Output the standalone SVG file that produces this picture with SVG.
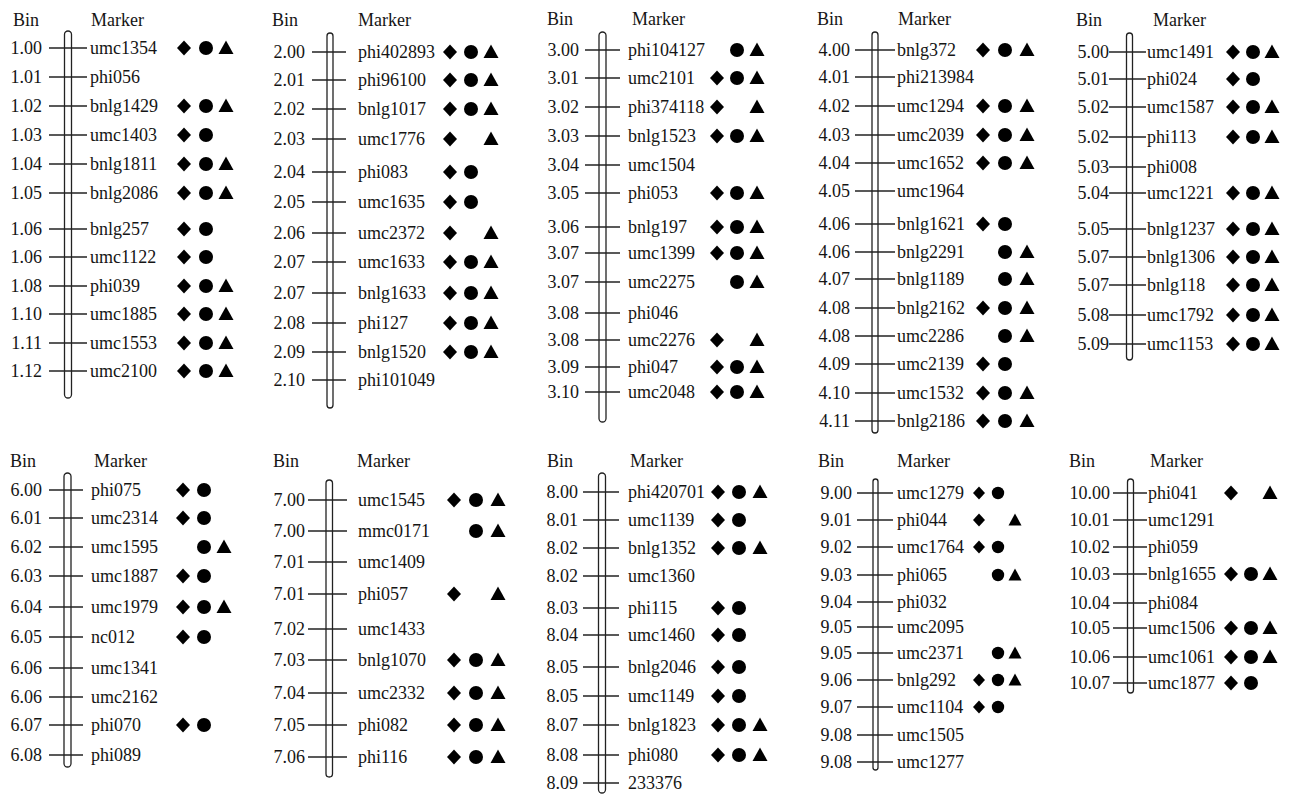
<svg xmlns="http://www.w3.org/2000/svg" xmlns:xlink="http://www.w3.org/1999/xlink" width="1292" height="795" viewBox="0 0 1292 795">
<style>
text{font-family:"Liberation Serif","Times New Roman",serif;font-size:18px;fill:#151515}
.bin{text-anchor:end}
.bar{fill:#fff;stroke:#222;stroke-width:1.3}
.tk line{stroke:#222;stroke-width:1.4}
.sym{fill:#000}
</style>
<defs>
<path id="D" d="M0,-7.5 L7,0 L0,7.5 L-7,0Z"/>
<circle id="C" r="7"/>
<path id="T" d="M0,-7.5 L7.5,6 L-7.5,6Z"/>
<path id="Ds" d="M0,-6.5 L6,0 L0,6.5 L-6,0Z"/>
<circle id="Cs" r="6.2"/>
<path id="Ts" d="M0,-6.5 L6.5,5.5 L-6.5,5.5Z"/>
</defs>
<rect width="1292" height="795" fill="#fff"/>

<g id="chr1">
<text x="13" y="26">Bin</text><text x="91" y="26">Marker</text>
<rect class="bar" x="64.5" y="31" width="7" height="367" rx="3.5"/>
<g class="tk">
<line x1="49" x2="87" y1="48" y2="48"/><line x1="49" x2="87" y1="77" y2="77"/><line x1="49" x2="87" y1="106" y2="106"/><line x1="49" x2="87" y1="135" y2="135"/><line x1="49" x2="87" y1="164" y2="164"/><line x1="49" x2="87" y1="193" y2="193"/><line x1="49" x2="87" y1="229" y2="229"/><line x1="49" x2="87" y1="257" y2="257"/><line x1="49" x2="87" y1="286" y2="286"/><line x1="49" x2="87" y1="314" y2="314"/><line x1="49" x2="87" y1="343" y2="343"/><line x1="49" x2="87" y1="371" y2="371"/>
</g>
<g class="bin"><text x="42" y="54">1.00</text><text x="42" y="83">1.01</text><text x="42" y="112">1.02</text><text x="42" y="141">1.03</text><text x="42" y="170">1.04</text><text x="42" y="199">1.05</text><text x="42" y="235">1.06</text><text x="42" y="263">1.06</text><text x="42" y="292">1.08</text><text x="42" y="320">1.10</text><text x="42" y="349">1.11</text><text x="42" y="377">1.12</text></g>
<g><text x="90" y="54">umc1354</text><text x="90" y="83">phi056</text><text x="90" y="112">bnlg1429</text><text x="90" y="141">umc1403</text><text x="90" y="170">bnlg1811</text><text x="90" y="199">bnlg2086</text><text x="90" y="235">bnlg257</text><text x="90" y="263">umc1122</text><text x="90" y="292">phi039</text><text x="90" y="320">umc1885</text><text x="90" y="349">umc1553</text><text x="90" y="377">umc2100</text></g>
<g class="sym">
<use href="#D" x="184" y="48"/><use href="#C" x="206" y="48"/><use href="#T" x="226" y="48"/>
<use href="#D" x="184" y="106"/><use href="#C" x="206" y="106"/><use href="#T" x="226" y="106"/>
<use href="#D" x="184" y="135"/><use href="#C" x="206" y="135"/>
<use href="#D" x="184" y="164"/><use href="#C" x="206" y="164"/><use href="#T" x="226" y="164"/>
<use href="#D" x="184" y="193"/><use href="#C" x="206" y="193"/><use href="#T" x="226" y="193"/>
<use href="#D" x="184" y="229"/><use href="#C" x="206" y="229"/>
<use href="#D" x="184" y="257"/><use href="#C" x="206" y="257"/>
<use href="#D" x="184" y="286"/><use href="#C" x="206" y="286"/><use href="#T" x="226" y="286"/>
<use href="#D" x="184" y="314"/><use href="#C" x="206" y="314"/><use href="#T" x="226" y="314"/>
<use href="#D" x="184" y="343"/><use href="#C" x="206" y="343"/><use href="#T" x="226" y="343"/>
<use href="#D" x="184" y="371"/><use href="#C" x="206" y="371"/><use href="#T" x="226" y="371"/>
</g>
</g>

<g id="chr2">
<text x="272" y="26">Bin</text><text x="358" y="26">Marker</text>
<rect class="bar" x="327" y="33" width="6" height="375" rx="3"/>
<g class="tk">
<line x1="312" x2="346" y1="52" y2="52"/><line x1="312" x2="346" y1="80" y2="80"/><line x1="312" x2="346" y1="109" y2="109"/><line x1="312" x2="346" y1="139" y2="139"/><line x1="312" x2="346" y1="172" y2="172"/><line x1="312" x2="346" y1="202" y2="202"/><line x1="312" x2="346" y1="233" y2="233"/><line x1="312" x2="346" y1="262" y2="262"/><line x1="312" x2="346" y1="293" y2="293"/><line x1="312" x2="346" y1="323" y2="323"/><line x1="312" x2="346" y1="352" y2="352"/><line x1="312" x2="346" y1="380" y2="380"/>
</g>
<g class="bin"><text x="305" y="58">2.00</text><text x="305" y="86">2.01</text><text x="305" y="115">2.02</text><text x="305" y="145">2.03</text><text x="305" y="178">2.04</text><text x="305" y="208">2.05</text><text x="305" y="239">2.06</text><text x="305" y="268">2.07</text><text x="305" y="299">2.07</text><text x="305" y="329">2.08</text><text x="305" y="358">2.09</text><text x="305" y="386">2.10</text></g>
<g><text x="358" y="58">phi402893</text><text x="358" y="86">phi96100</text><text x="358" y="115">bnlg1017</text><text x="358" y="145">umc1776</text><text x="358" y="178">phi083</text><text x="358" y="208">umc1635</text><text x="358" y="239">umc2372</text><text x="358" y="268">umc1633</text><text x="358" y="299">bnlg1633</text><text x="358" y="329">phi127</text><text x="358" y="358">bnlg1520</text><text x="358" y="386">phi101049</text></g>
<g class="sym">
<use href="#D" x="450" y="52"/><use href="#C" x="471" y="52"/><use href="#T" x="491" y="52"/>
<use href="#D" x="450" y="80"/><use href="#C" x="471" y="80"/><use href="#T" x="491" y="80"/>
<use href="#D" x="450" y="109"/><use href="#C" x="471" y="109"/><use href="#T" x="491" y="109"/>
<use href="#D" x="450" y="139"/><use href="#T" x="491" y="139"/>
<use href="#D" x="450" y="172"/><use href="#C" x="471" y="172"/>
<use href="#D" x="450" y="202"/><use href="#C" x="471" y="202"/>
<use href="#D" x="450" y="233"/><use href="#T" x="491" y="233"/>
<use href="#D" x="450" y="262"/><use href="#C" x="471" y="262"/><use href="#T" x="491" y="262"/>
<use href="#D" x="450" y="293"/><use href="#C" x="471" y="293"/><use href="#T" x="491" y="293"/>
<use href="#D" x="450" y="323"/><use href="#C" x="471" y="323"/><use href="#T" x="491" y="323"/>
<use href="#D" x="450" y="352"/><use href="#C" x="471" y="352"/><use href="#T" x="491" y="352"/>
</g>
</g>

<g id="chr3">
<text x="547" y="25">Bin</text><text x="632" y="25">Marker</text>
<rect class="bar" x="599" y="32" width="7" height="390" rx="3.5"/>
<g class="tk">
<line x1="585" x2="620" y1="50" y2="50"/><line x1="585" x2="620" y1="78" y2="78"/><line x1="585" x2="620" y1="107" y2="107"/><line x1="585" x2="620" y1="136" y2="136"/><line x1="585" x2="620" y1="165" y2="165"/><line x1="585" x2="620" y1="193" y2="193"/><line x1="585" x2="620" y1="227" y2="227"/><line x1="585" x2="620" y1="253" y2="253"/><line x1="585" x2="620" y1="282" y2="282"/><line x1="585" x2="620" y1="313" y2="313"/><line x1="585" x2="620" y1="340" y2="340"/><line x1="585" x2="620" y1="367" y2="367"/><line x1="585" x2="620" y1="392" y2="392"/>
</g>
<g class="bin"><text x="579" y="56">3.00</text><text x="579" y="84">3.01</text><text x="579" y="113">3.02</text><text x="579" y="142">3.03</text><text x="579" y="171">3.04</text><text x="579" y="199">3.05</text><text x="579" y="233">3.06</text><text x="579" y="259">3.07</text><text x="579" y="288">3.07</text><text x="579" y="319">3.08</text><text x="579" y="346">3.08</text><text x="579" y="373">3.09</text><text x="579" y="398">3.10</text></g>
<g><text x="628" y="56">phi104127</text><text x="628" y="84">umc2101</text><text x="628" y="113">phi374118</text><text x="628" y="142">bnlg1523</text><text x="628" y="171">umc1504</text><text x="628" y="199">phi053</text><text x="628" y="233">bnlg197</text><text x="628" y="259">umc1399</text><text x="628" y="288">umc2275</text><text x="628" y="319">phi046</text><text x="628" y="346">umc2276</text><text x="628" y="373">phi047</text><text x="628" y="398">umc2048</text></g>
<g class="sym">
<use href="#C" x="737" y="50"/><use href="#T" x="757" y="50"/>
<use href="#D" x="717" y="78"/><use href="#C" x="737" y="78"/><use href="#T" x="757" y="78"/>
<use href="#D" x="717" y="107"/><use href="#T" x="757" y="107"/>
<use href="#D" x="717" y="136"/><use href="#C" x="737" y="136"/><use href="#T" x="757" y="136"/>
<use href="#D" x="717" y="193"/><use href="#C" x="737" y="193"/><use href="#T" x="757" y="193"/>
<use href="#D" x="717" y="227"/><use href="#C" x="737" y="227"/><use href="#T" x="757" y="227"/>
<use href="#D" x="717" y="253"/><use href="#C" x="737" y="253"/><use href="#T" x="757" y="253"/>
<use href="#C" x="737" y="282"/><use href="#T" x="757" y="282"/>
<use href="#D" x="717" y="340"/><use href="#T" x="757" y="340"/>
<use href="#D" x="717" y="367"/><use href="#C" x="737" y="367"/><use href="#T" x="757" y="367"/>
<use href="#D" x="717" y="392"/><use href="#C" x="737" y="392"/><use href="#T" x="757" y="392"/>
</g>
</g>

<g id="chr4">
<text x="817" y="25">Bin</text><text x="898" y="25">Marker</text>
<rect class="bar" x="872" y="32" width="6" height="401" rx="3"/>
<g class="tk">
<line x1="855" x2="895" y1="50" y2="50"/><line x1="855" x2="895" y1="77" y2="77"/><line x1="855" x2="895" y1="106" y2="106"/><line x1="855" x2="895" y1="135" y2="135"/><line x1="855" x2="895" y1="163" y2="163"/><line x1="855" x2="895" y1="191" y2="191"/><line x1="855" x2="895" y1="224" y2="224"/><line x1="855" x2="895" y1="252" y2="252"/><line x1="855" x2="895" y1="279" y2="279"/><line x1="855" x2="895" y1="308" y2="308"/><line x1="855" x2="895" y1="336" y2="336"/><line x1="855" x2="895" y1="364" y2="364"/><line x1="855" x2="895" y1="393" y2="393"/><line x1="855" x2="895" y1="421" y2="421"/>
</g>
<g class="bin"><text x="850" y="56">4.00</text><text x="850" y="83">4.01</text><text x="850" y="112">4.02</text><text x="850" y="141">4.03</text><text x="850" y="169">4.04</text><text x="850" y="197">4.05</text><text x="850" y="230">4.06</text><text x="850" y="258">4.06</text><text x="850" y="285">4.07</text><text x="850" y="314">4.08</text><text x="850" y="342">4.08</text><text x="850" y="370">4.09</text><text x="850" y="399">4.10</text><text x="850" y="427">4.11</text></g>
<g><text x="897" y="56">bnlg372</text><text x="897" y="83">phi213984</text><text x="897" y="112">umc1294</text><text x="897" y="141">umc2039</text><text x="897" y="169">umc1652</text><text x="897" y="197">umc1964</text><text x="897" y="230">bnlg1621</text><text x="897" y="258">bnlg2291</text><text x="897" y="285">bnlg1189</text><text x="897" y="314">bnlg2162</text><text x="897" y="342">umc2286</text><text x="897" y="370">umc2139</text><text x="897" y="399">umc1532</text><text x="897" y="427">bnlg2186</text></g>
<g class="sym">
<use href="#D" x="983" y="50"/><use href="#C" x="1005" y="50"/><use href="#T" x="1027" y="50"/>
<use href="#D" x="983" y="106"/><use href="#C" x="1005" y="106"/><use href="#T" x="1027" y="106"/>
<use href="#D" x="983" y="135"/><use href="#C" x="1005" y="135"/><use href="#T" x="1027" y="135"/>
<use href="#D" x="983" y="163"/><use href="#C" x="1005" y="163"/><use href="#T" x="1027" y="163"/>
<use href="#D" x="983" y="224"/><use href="#C" x="1005" y="224"/>
<use href="#C" x="1005" y="252"/><use href="#T" x="1027" y="252"/>
<use href="#C" x="1005" y="279"/><use href="#T" x="1027" y="279"/>
<use href="#D" x="983" y="308"/><use href="#C" x="1005" y="308"/><use href="#T" x="1027" y="308"/>
<use href="#C" x="1005" y="336"/><use href="#T" x="1027" y="336"/>
<use href="#D" x="983" y="364"/><use href="#C" x="1005" y="364"/>
<use href="#D" x="983" y="393"/><use href="#C" x="1005" y="393"/><use href="#T" x="1027" y="393"/>
<use href="#D" x="983" y="421"/><use href="#C" x="1005" y="421"/><use href="#T" x="1027" y="421"/>
</g>
</g>

<g id="chr5">
<text x="1076" y="26">Bin</text><text x="1153" y="26">Marker</text>
<rect class="bar" x="1126.5" y="33" width="6" height="327" rx="3"/>
<g class="tk">
<line x1="1109" x2="1146" y1="52" y2="52"/><line x1="1109" x2="1146" y1="79" y2="79"/><line x1="1109" x2="1146" y1="107" y2="107"/><line x1="1109" x2="1146" y1="137" y2="137"/><line x1="1109" x2="1146" y1="167" y2="167"/><line x1="1109" x2="1146" y1="193" y2="193"/><line x1="1109" x2="1146" y1="229" y2="229"/><line x1="1109" x2="1146" y1="257" y2="257"/><line x1="1109" x2="1146" y1="285" y2="285"/><line x1="1109" x2="1146" y1="315" y2="315"/><line x1="1109" x2="1146" y1="344" y2="344"/>
</g>
<g class="bin"><text x="1109" y="58">5.00</text><text x="1109" y="85">5.01</text><text x="1109" y="113">5.02</text><text x="1109" y="143">5.02</text><text x="1109" y="173">5.03</text><text x="1109" y="199">5.04</text><text x="1109" y="235">5.05</text><text x="1109" y="263">5.07</text><text x="1109" y="291">5.07</text><text x="1109" y="321">5.08</text><text x="1109" y="350">5.09</text></g>
<g><text x="1147" y="58">umc1491</text><text x="1147" y="85">phi024</text><text x="1147" y="113">umc1587</text><text x="1147" y="143">phi113</text><text x="1147" y="173">phi008</text><text x="1147" y="199">umc1221</text><text x="1147" y="235">bnlg1237</text><text x="1147" y="263">bnlg1306</text><text x="1147" y="291">bnlg118</text><text x="1147" y="321">umc1792</text><text x="1147" y="350">umc1153</text></g>
<g class="sym">
<use href="#D" x="1233" y="52"/><use href="#C" x="1253" y="52"/><use href="#T" x="1272" y="52"/>
<use href="#D" x="1233" y="79"/><use href="#C" x="1253" y="79"/>
<use href="#D" x="1233" y="107"/><use href="#C" x="1253" y="107"/><use href="#T" x="1272" y="107"/>
<use href="#D" x="1233" y="137"/><use href="#C" x="1253" y="137"/><use href="#T" x="1272" y="137"/>
<use href="#D" x="1233" y="193"/><use href="#C" x="1253" y="193"/><use href="#T" x="1272" y="193"/>
<use href="#D" x="1233" y="229"/><use href="#C" x="1253" y="229"/><use href="#T" x="1272" y="229"/>
<use href="#D" x="1233" y="257"/><use href="#C" x="1253" y="257"/><use href="#T" x="1272" y="257"/>
<use href="#D" x="1233" y="285"/><use href="#C" x="1253" y="285"/><use href="#T" x="1272" y="285"/>
<use href="#D" x="1233" y="315"/><use href="#C" x="1253" y="315"/><use href="#T" x="1272" y="315"/>
<use href="#D" x="1233" y="344"/><use href="#C" x="1253" y="344"/><use href="#T" x="1272" y="344"/>
</g>
</g>

<g id="chr6">
<text x="10" y="467">Bin</text><text x="94" y="467">Marker</text>
<rect class="bar" x="64" y="473" width="7" height="294" rx="3.5"/>
<g class="tk">
<line x1="49" x2="83" y1="490" y2="490"/><line x1="49" x2="83" y1="518" y2="518"/><line x1="49" x2="83" y1="547" y2="547"/><line x1="49" x2="83" y1="576" y2="576"/><line x1="49" x2="83" y1="607" y2="607"/><line x1="49" x2="83" y1="637" y2="637"/><line x1="49" x2="83" y1="668" y2="668"/><line x1="49" x2="83" y1="697" y2="697"/><line x1="49" x2="83" y1="725" y2="725"/><line x1="49" x2="83" y1="755" y2="755"/>
</g>
<g class="bin"><text x="42" y="496">6.00</text><text x="42" y="524">6.01</text><text x="42" y="553">6.02</text><text x="42" y="582">6.03</text><text x="42" y="613">6.04</text><text x="42" y="643">6.05</text><text x="42" y="674">6.06</text><text x="42" y="703">6.06</text><text x="42" y="731">6.07</text><text x="42" y="761">6.08</text></g>
<g><text x="91" y="496">phi075</text><text x="91" y="524">umc2314</text><text x="91" y="553">umc1595</text><text x="91" y="582">umc1887</text><text x="91" y="613">umc1979</text><text x="91" y="643">nc012</text><text x="91" y="674">umc1341</text><text x="91" y="703">umc2162</text><text x="91" y="731">phi070</text><text x="91" y="761">phi089</text></g>
<g class="sym">
<use href="#D" x="183" y="490"/><use href="#C" x="204" y="490"/>
<use href="#D" x="183" y="518"/><use href="#C" x="204" y="518"/>
<use href="#C" x="204" y="547"/><use href="#T" x="224" y="547"/>
<use href="#D" x="183" y="576"/><use href="#C" x="204" y="576"/>
<use href="#D" x="183" y="607"/><use href="#C" x="204" y="607"/><use href="#T" x="224" y="607"/>
<use href="#D" x="183" y="637"/><use href="#C" x="204" y="637"/>
<use href="#D" x="183" y="725"/><use href="#C" x="204" y="725"/>
</g>
</g>

<g id="chr7">
<text x="273" y="467">Bin</text><text x="357" y="467">Marker</text>
<rect class="bar" x="326" y="480" width="6.5" height="297" rx="3.2"/>
<g class="tk">
<line x1="308" x2="347" y1="500" y2="500"/><line x1="308" x2="347" y1="531" y2="531"/><line x1="308" x2="347" y1="562" y2="562"/><line x1="308" x2="347" y1="594" y2="594"/><line x1="308" x2="347" y1="629" y2="629"/><line x1="308" x2="347" y1="660" y2="660"/><line x1="308" x2="347" y1="693" y2="693"/><line x1="308" x2="347" y1="725" y2="725"/><line x1="308" x2="347" y1="757" y2="757"/>
</g>
<g class="bin"><text x="305" y="506">7.00</text><text x="305" y="537">7.00</text><text x="305" y="568">7.01</text><text x="305" y="600">7.01</text><text x="305" y="635">7.02</text><text x="305" y="666">7.03</text><text x="305" y="699">7.04</text><text x="305" y="731">7.05</text><text x="305" y="763">7.06</text></g>
<g><text x="358" y="506">umc1545</text><text x="358" y="537">mmc0171</text><text x="358" y="568">umc1409</text><text x="358" y="600">phi057</text><text x="358" y="635">umc1433</text><text x="358" y="666">bnlg1070</text><text x="358" y="699">umc2332</text><text x="358" y="731">phi082</text><text x="358" y="763">phi116</text></g>
<g class="sym">
<use href="#D" x="454" y="500"/><use href="#C" x="476" y="500"/><use href="#T" x="498" y="500"/>
<use href="#C" x="476" y="531"/><use href="#T" x="498" y="531"/>
<use href="#D" x="454" y="594"/><use href="#T" x="498" y="594"/>
<use href="#D" x="454" y="660"/><use href="#C" x="476" y="660"/><use href="#T" x="498" y="660"/>
<use href="#D" x="454" y="693"/><use href="#C" x="476" y="693"/><use href="#T" x="498" y="693"/>
<use href="#D" x="454" y="725"/><use href="#C" x="476" y="725"/><use href="#T" x="498" y="725"/>
<use href="#D" x="454" y="757"/><use href="#C" x="476" y="757"/><use href="#T" x="498" y="757"/>
</g>
</g>

<g id="chr8">
<text x="547" y="467">Bin</text><text x="630" y="467">Marker</text>
<rect class="bar" x="598.5" y="473" width="7" height="320" rx="3.5"/>
<g class="tk">
<line x1="583" x2="619" y1="492" y2="492"/><line x1="583" x2="619" y1="520" y2="520"/><line x1="583" x2="619" y1="548" y2="548"/><line x1="583" x2="619" y1="576" y2="576"/><line x1="583" x2="619" y1="608" y2="608"/><line x1="583" x2="619" y1="635" y2="635"/><line x1="583" x2="619" y1="667" y2="667"/><line x1="583" x2="619" y1="696" y2="696"/><line x1="583" x2="619" y1="725" y2="725"/><line x1="583" x2="619" y1="755" y2="755"/><line x1="583" x2="619" y1="783" y2="783"/>
</g>
<g class="bin"><text x="578" y="498">8.00</text><text x="578" y="526">8.01</text><text x="578" y="554">8.02</text><text x="578" y="582">8.02</text><text x="578" y="614">8.03</text><text x="578" y="641">8.04</text><text x="578" y="673">8.05</text><text x="578" y="702">8.05</text><text x="578" y="731">8.07</text><text x="578" y="761">8.08</text><text x="578" y="789">8.09</text></g>
<g><text x="628" y="498">phi420701</text><text x="628" y="526">umc1139</text><text x="628" y="554">bnlg1352</text><text x="628" y="582">umc1360</text><text x="628" y="614">phi115</text><text x="628" y="641">umc1460</text><text x="628" y="673">bnlg2046</text><text x="628" y="702">umc1149</text><text x="628" y="731">bnlg1823</text><text x="628" y="761">phi080</text><text x="628" y="789">233376</text></g>
<g class="sym">
<use href="#D" x="718" y="492"/><use href="#C" x="739" y="492"/><use href="#T" x="760" y="492"/>
<use href="#D" x="718" y="520"/><use href="#C" x="739" y="520"/>
<use href="#D" x="718" y="548"/><use href="#C" x="739" y="548"/><use href="#T" x="760" y="548"/>
<use href="#D" x="718" y="608"/><use href="#C" x="739" y="608"/>
<use href="#D" x="718" y="635"/><use href="#C" x="739" y="635"/>
<use href="#D" x="718" y="667"/><use href="#C" x="739" y="667"/>
<use href="#D" x="718" y="696"/><use href="#C" x="739" y="696"/>
<use href="#D" x="718" y="725"/><use href="#C" x="739" y="725"/><use href="#T" x="760" y="725"/>
<use href="#D" x="718" y="755"/><use href="#C" x="739" y="755"/><use href="#T" x="760" y="755"/>
</g>
</g>

<g id="chr9">
<text x="818" y="467">Bin</text><text x="897" y="467">Marker</text>
<rect class="bar" x="873" y="479" width="5" height="291" rx="2.5"/>
<g class="tk">
<line x1="857" x2="893" y1="493" y2="493"/><line x1="857" x2="893" y1="520" y2="520"/><line x1="857" x2="893" y1="547" y2="547"/><line x1="857" x2="893" y1="575" y2="575"/><line x1="857" x2="893" y1="602" y2="602"/><line x1="857" x2="893" y1="627" y2="627"/><line x1="857" x2="893" y1="653" y2="653"/><line x1="857" x2="893" y1="680" y2="680"/><line x1="857" x2="893" y1="707" y2="707"/><line x1="857" x2="893" y1="735" y2="735"/><line x1="857" x2="893" y1="762" y2="762"/>
</g>
<g class="bin"><text x="852" y="499">9.00</text><text x="852" y="526">9.01</text><text x="852" y="553">9.02</text><text x="852" y="581">9.03</text><text x="852" y="608">9.04</text><text x="852" y="633">9.05</text><text x="852" y="659">9.05</text><text x="852" y="686">9.06</text><text x="852" y="713">9.07</text><text x="852" y="741">9.08</text><text x="852" y="768">9.08</text></g>
<g><text x="897" y="499">umc1279</text><text x="897" y="526">phi044</text><text x="897" y="553">umc1764</text><text x="897" y="581">phi065</text><text x="897" y="608">phi032</text><text x="897" y="633">umc2095</text><text x="897" y="659">umc2371</text><text x="897" y="686">bnlg292</text><text x="897" y="713">umc1104</text><text x="897" y="741">umc1505</text><text x="897" y="768">umc1277</text></g>
<g class="sym">
<use href="#Ds" x="979" y="493"/><use href="#Cs" x="998" y="493"/>
<use href="#Ds" x="979" y="520"/><use href="#Ts" x="1015" y="520"/>
<use href="#Ds" x="979" y="547"/><use href="#Cs" x="998" y="547"/>
<use href="#Cs" x="998" y="575"/><use href="#Ts" x="1015" y="575"/>
<use href="#Cs" x="998" y="653"/><use href="#Ts" x="1015" y="653"/>
<use href="#Ds" x="979" y="680"/><use href="#Cs" x="998" y="680"/><use href="#Ts" x="1015" y="680"/>
<use href="#Ds" x="979" y="707"/><use href="#Cs" x="998" y="707"/>
</g>
</g>

<g id="chr10">
<text x="1069" y="467">Bin</text><text x="1150" y="467">Marker</text>
<rect class="bar" x="1127.5" y="479" width="6" height="214" rx="3"/>
<g class="tk">
<line x1="1113" x2="1147" y1="493" y2="493"/><line x1="1113" x2="1147" y1="520" y2="520"/><line x1="1113" x2="1147" y1="547" y2="547"/><line x1="1113" x2="1147" y1="574" y2="574"/><line x1="1113" x2="1147" y1="603" y2="603"/><line x1="1113" x2="1147" y1="628" y2="628"/><line x1="1113" x2="1147" y1="657" y2="657"/><line x1="1113" x2="1147" y1="683" y2="683"/>
</g>
<g class="bin"><text x="1110" y="499">10.00</text><text x="1110" y="526">10.01</text><text x="1110" y="553">10.02</text><text x="1110" y="580">10.03</text><text x="1110" y="609">10.04</text><text x="1110" y="634">10.05</text><text x="1110" y="663">10.06</text><text x="1110" y="689">10.07</text></g>
<g><text x="1148" y="499">phi041</text><text x="1148" y="526">umc1291</text><text x="1148" y="553">phi059</text><text x="1148" y="580">bnlg1655</text><text x="1148" y="609">phi084</text><text x="1148" y="634">umc1506</text><text x="1148" y="663">umc1061</text><text x="1148" y="689">umc1877</text></g>
<g class="sym">
<use href="#D" x="1231" y="493"/><use href="#T" x="1270" y="493"/>
<use href="#D" x="1231" y="574"/><use href="#C" x="1251" y="574"/><use href="#T" x="1270" y="574"/>
<use href="#D" x="1231" y="628"/><use href="#C" x="1251" y="628"/><use href="#T" x="1270" y="628"/>
<use href="#D" x="1231" y="657"/><use href="#C" x="1251" y="657"/><use href="#T" x="1270" y="657"/>
<use href="#D" x="1231" y="683"/><use href="#C" x="1251" y="683"/>
</g>
</g>
</svg>
